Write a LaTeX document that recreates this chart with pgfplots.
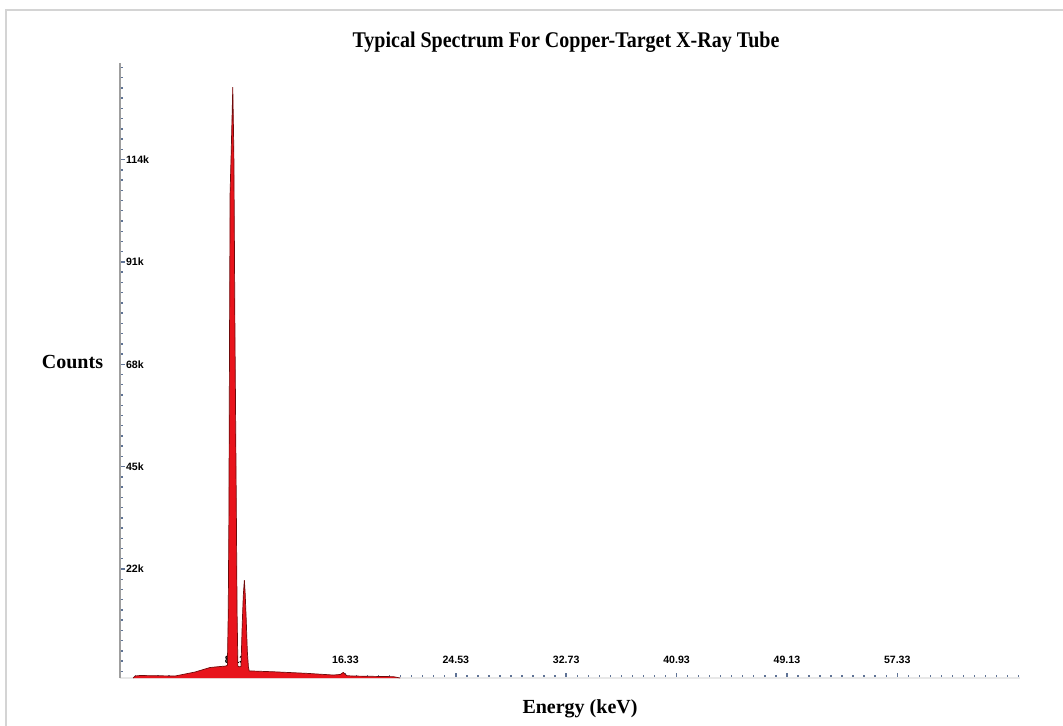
\documentclass[border=0pt]{standalone}
\usepackage{pgfplots}
\pgfplotsset{compat=1.18}
\usepackage{fontspec}
\setmainfont{Liberation Serif}
\newfontfamily\tickfont{Liberation Sans}
\definecolor{specred}{RGB}{232,20,28}
\definecolor{specedge}{RGB}{110,10,10}
\definecolor{tickc}{RGB}{95,115,150}
\definecolor{framec}{RGB}{212,212,212}
\begin{document}
\begin{tikzpicture}[x=0.5pt,y=0.5pt]
\useasboundingbox (-120,-47) rectangle (943,678);
\draw[framec, line width=1.25pt] (-114,-60) -- (-114,668) -- (960,668);
\begin{axis}[
  at={(0,0)}, anchor=south west, scale only axis,
  width=450pt, height=307.5pt,
  xmin=-0.42, xmax=66.45, ymin=0, ymax=138.2,
  axis lines=left, axis line style={-},
  x axis line style={draw=gray!18, line width=0.6pt},
  y axis line style={draw=gray!75, line width=1pt},
  tick align=inside,
  major tick length=2.6pt, minor tick length=1.3pt,
  every tick/.style={tickc, line width=0.7pt},
  xtick={8.13,16.33,24.53,32.73,40.93,49.13,57.33},
  xticklabels={8.13,16.33,24.53,32.73,40.93,49.13,57.33},
  minor xtick={0.75,1.57,...,66.3},
  ytick={24.5,47.5,70.5,93.5,116.5},
  yticklabels={22k,45k,68k,91k,114k},
  minor ytick={1.5,3.8,...,137},
  xticklabel style={anchor=south, yshift=3.8pt, font=\tickfont\bfseries\fontsize{5.3}{6}\selectfont},
  yticklabel style={anchor=west, xshift=-0.5pt, font=\tickfont\bfseries\fontsize{5.3}{6}\selectfont},
  clip=false,
]
\addplot[fill=specred, draw=specedge, line width=0.35pt] coordinates {
(0.55,0) (0.70,0.45) (1.07,0.56) (3.67,0.45) (4.04,0.67) (5.16,1.35)
(6.27,2.36) (7.01,2.58) (7.46,2.70) (7.56,2.9) (7.62,14.3) (7.67,35.5)
(7.71,70.4) (7.76,109) (7.84,118) (7.96,132.8) (8.04,118) (8.12,78.2) (8.22,39.3)
(8.28,14.6) (8.34,2.7) (8.45,2.5) (8.57,2.6) (8.66,12) (8.74,18.5)
(8.82,22.0) (8.88,19) (8.96,13) (9.04,6) (9.12,2.5) (9.18,1.6) (11.0,1.4)
(13.45,1.05) (15.43,0.67) (15.95,0.8) (16.17,1.25) (16.43,0.52)
(16.9,0.45) (19.89,0.3) (20.4,0)
};
\end{axis}
\node[anchor=base, font=\bfseries\fontsize{10}{12}\selectfont, yscale=1.12] at (446,630) {Typical Spectrum For Copper-Target X-Ray Tube};
\node[anchor=base, font=\bfseries\fontsize{10}{12}\selectfont] at (-47.5,310) {Counts};
\node[anchor=base, font=\bfseries\fontsize{10}{12}\selectfont] at (460,-35) {Energy (keV)};
\end{tikzpicture}
\end{document}
